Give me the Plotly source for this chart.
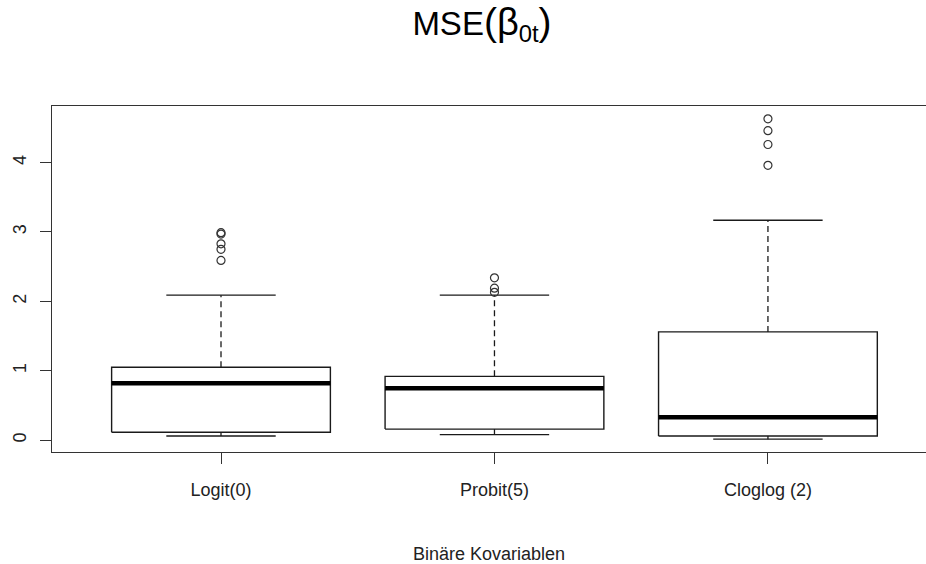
import plotly.graph_objects as go

categories = ["Logit(0)", "Probit(5)", "Cloglog (2)"]
positions = [1, 2, 3]
lower_whisker = [0.06, 0.08, 0.015]
q1 = [0.115, 0.16, 0.06]
median = [0.82, 0.75, 0.33]
q3 = [1.05, 0.92, 1.56]
upper_whisker = [2.09, 2.09, 3.17]
outliers = [
    [2.59, 2.75, 2.83, 2.97, 2.99],
    [2.13, 2.19, 2.34],
    [3.96, 4.26, 4.46, 4.63],
]
y_ticks = [0, 1, 2, 3, 4]

box_half = 0.4
cap_half = 0.2
line_col = "#1a1a1a"

fig = go.Figure()

# boxes
bx, by = [], []
for p, a, b in zip(positions, q1, q3):
    bx += [p - box_half, p + box_half, p + box_half, p - box_half, p - box_half, None]
    by += [a, a, b, b, a, None]
fig.add_trace(go.Scatter(x=bx, y=by, mode="lines", line=dict(color=line_col, width=1.4),
                         hoverinfo="skip", showlegend=False))

# medians
mx, my = [], []
for p, m in zip(positions, median):
    mx += [p - box_half, p + box_half, None]
    my += [m, m, None]
fig.add_trace(go.Scatter(x=mx, y=my, mode="lines", line=dict(color="black", width=4.5),
                         hoverinfo="skip", showlegend=False))

# dashed whiskers
wx, wy = [], []
for p, lo, a, b, hi in zip(positions, lower_whisker, q1, q3, upper_whisker):
    wx += [p, p, None, p, p, None]
    wy += [b, hi, None, lo, a, None]
fig.add_trace(go.Scatter(x=wx, y=wy, mode="lines", line=dict(color=line_col, width=1.3, dash="6px,4px"),
                         hoverinfo="skip", showlegend=False))

# caps
cx, cy = [], []
for p, lo, hi in zip(positions, lower_whisker, upper_whisker):
    cx += [p - cap_half, p + cap_half, None, p - cap_half, p + cap_half, None]
    cy += [hi, hi, None, lo, lo, None]
fig.add_trace(go.Scatter(x=cx, y=cy, mode="lines", line=dict(color=line_col, width=1.4),
                         hoverinfo="skip", showlegend=False))

# outliers
ox, oy = [], []
for p, outs in zip(positions, outliers):
    ox += [p] * len(outs)
    oy += outs
fig.add_trace(go.Scatter(x=ox, y=oy, mode="markers",
                         marker=dict(symbol="circle-open", size=8, color="#333333", line=dict(width=1.2)),
                         hoverinfo="skip", showlegend=False))

font_family = "Liberation Sans, Arial, sans-serif"

title_text = ("MSE<span style='font-size:39px'>(</span>"
              "<span style='font-size:38px'>β</span>"
              "<span style='font-size:34px'><sub>0t</sub></span>"
              "<span style='font-size:39px'>)</span>")

fig.update_layout(
    width=926, height=564,
    margin=dict(l=52, r=0, t=106, b=112),
    paper_bgcolor="white", plot_bgcolor="white",
    font=dict(family=font_family, size=18, color="#222222"),
    title=dict(text=title_text, x=482 / 926, xanchor="center",
               y=1 - 23 / 564, yanchor="middle", yref="container",
               font=dict(size=33, color="black")),
    xaxis=dict(range=[0.382, 3.578], tickvals=positions, ticktext=categories,
               showline=True, linecolor="#333333", linewidth=1.3, mirror=True,
               ticks="outside", ticklen=11, tickwidth=1.2, tickcolor="#333333",
               showgrid=False, zeroline=False, ticklabelstandoff=10, automargin=False,
               title=dict(text="Binäre Kovariablen", standoff=49, font=dict(size=18))),
    yaxis=dict(range=[-0.17, 4.815], tickvals=y_ticks, ticktext=[str(v) for v in y_ticks],
               showline=True, linecolor="#333333", linewidth=1.3, mirror=False,
               ticks="outside", ticklen=11, tickwidth=1.2, tickcolor="#333333",
               showgrid=False, zeroline=False, tickangle=-90, ticklabelstandoff=7,
               automargin=False),
)

fig.write_html(
    "out.html",
    config={"displayModeBar": False},
    post_script=("document.documentElement.style.overflow='hidden';"
                 "document.body.style.overflow='hidden';"
                 "document.body.style.margin='0';"),
)
